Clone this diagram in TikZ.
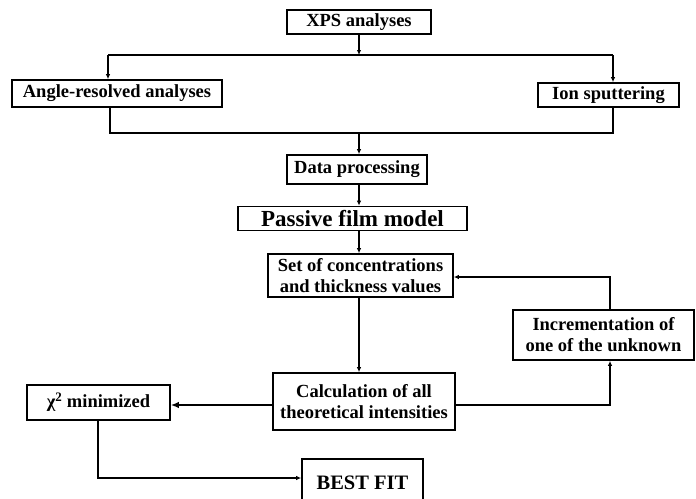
\documentclass[tikz,border=0pt]{standalone}
\usepackage{fontspec}
\setmainfont{Liberation Serif}
\usetikzlibrary{arrows.meta}
\begin{document}
\begin{tikzpicture}[x=1pt,y=-1pt,
  box/.style={draw,line width=1.7pt,inner sep=0pt,align=center,
    font=\fontsize{18.5}{21}\selectfont\bfseries},
  link/.style={line width=1.4pt},
  arr/.style={line width=1.4pt,-{Latex[length=5pt,width=4.5pt]}},
  bigarr/.style={line width=1.4pt,-{Latex[length=8pt,width=6.5pt]}}]
\useasboundingbox (0,0) rectangle (696,498);
\clip (0,0) rectangle (696,498);
\fill[white] (0,0) rectangle (696,498);

% boxes
\node[box,minimum width=144pt,minimum height=24pt] (xps) at (359,22) {XPS analyses};
\node[box,minimum width=210pt,minimum height=27pt] (angle) at (117,93.5) {Angle-resolved analyses};
\node[box,minimum width=141pt,minimum height=24pt] (ion) at (608.5,95) {Ion sputtering};
\node[box,minimum width=140pt,minimum height=29pt] (data) at (357,169.5) {Data processing};
\node[box,minimum width=229pt,minimum height=24pt,font=\fontsize{23}{26}\selectfont\bfseries] (film) at (352.5,218.5) {Passive film model};
\node[box,minimum width=185pt,minimum height=43pt] (set) at (360.5,275.5) {Set of concentrations\\and thickness values};
\node[box,minimum width=181pt,minimum height=50pt] (incr) at (603.5,335) {Incrementation of\\one of the unknown};
\node[box,minimum width=182pt,minimum height=57pt] (calc) at (364,401.5) {Calculation of all\\theoretical intensities};
\node[box,minimum width=143pt,minimum height=35pt] (chi) at (98.5,402.5) {χ\textsuperscript{2} minimized};
\node[box,minimum width=121pt,minimum height=50pt,anchor=north,font=\fontsize{20.5}{23}\selectfont\bfseries,text depth=0pt] (best) at (362.5,458) {\raisebox{3pt}{BEST FIT}};

% junction points of the distribution lines
\coordinate (tl) at (108,55);
\coordinate (tm) at (359,55);
\coordinate (tr) at (613,55);
\coordinate (bl) at (110,133);
\coordinate (bm) at (359,133);
\coordinate (br) at (613,133);
\coordinate (cr) at (610,405);
\coordinate (sr) at (610,277);
\coordinate (cb) at (98,478);

% connectors
\draw[arr] (xps.south -| tm) -- (tm);
\draw[link] (tl) -- (tr);
\draw[arr] (tl) -- (tl |- angle.north);
\draw[arr] (tr) -- (tr |- ion.north);
\draw[link] (angle.south -| bl) -- (bl) -- (br) -- (ion.south -| br);
\draw[arr] (bm) -- (bm |- data.north);
\draw[arr] (data.south -| bm) -- (bm |- film.north);
\draw[arr] (film.south -| bm) -- (bm |- set.north);
\draw[arr] (set.south -| bm) -- (bm |- calc.north);
\draw[arr] (calc.east |- cr) -- (cr) -- (cr |- incr.south);
\draw[arr] (incr.north -| sr) -- (sr) -- (set.east |- sr);
\draw[bigarr] (calc.west |- cr) -- (chi.east |- cr);
\draw[arr] (chi.south -| cb) -- (cb) -- (best.west |- cb);
\end{tikzpicture}
\end{document}
